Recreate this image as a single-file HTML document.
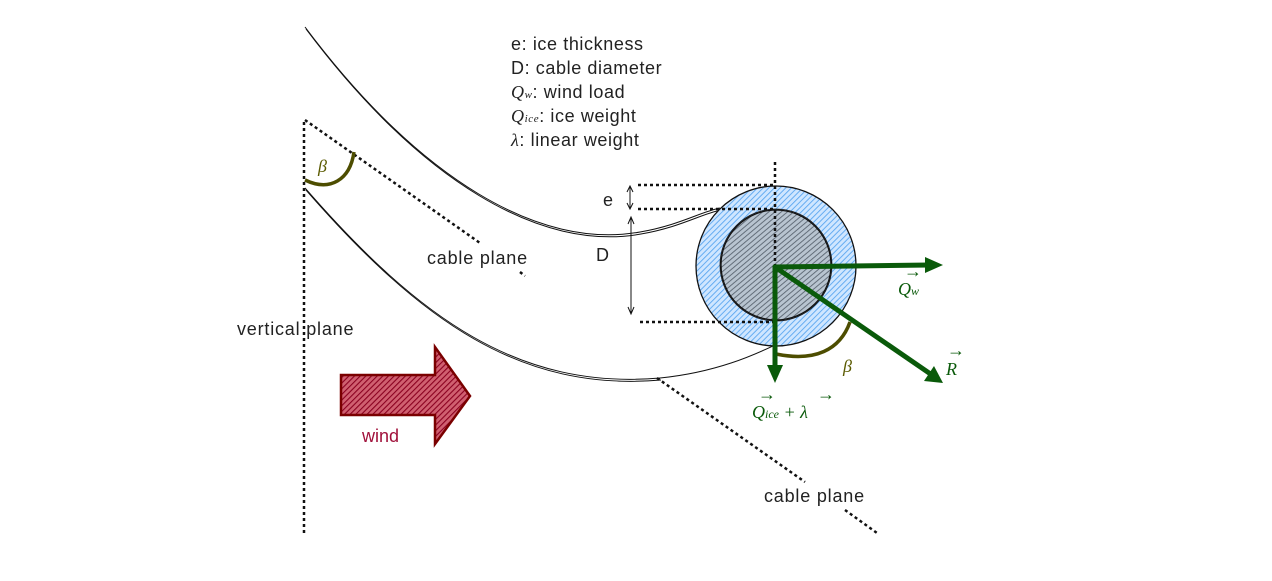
<!DOCTYPE html>
<html><head><meta charset="utf-8"><style>
body{margin:0;background:#fff}
svg{display:block}
text{font-family:"Liberation Sans",sans-serif;font-size:18px;fill:#222}
.m{font-family:"Liberation Serif",serif;font-style:italic}
</style></head><body>
<svg width="1272" height="581" viewBox="0 0 1272 581" xmlns="http://www.w3.org/2000/svg">
<defs>
<pattern id="hb" width="4" height="4" patternUnits="userSpaceOnUse" patternTransform="rotate(45)"><rect width="4" height="4" fill="#cfe6ff"/><line x1="0" y1="0" x2="0" y2="4" stroke="#5aa6f0" stroke-width="1.8"/></pattern>
<pattern id="hg" width="4" height="4" patternUnits="userSpaceOnUse" patternTransform="rotate(50)"><rect width="4" height="4" fill="#b8c4d0"/><line x1="0" y1="0" x2="0" y2="4" stroke="#5a6470" stroke-width="1.8"/></pattern>
<pattern id="hr" width="4" height="4" patternUnits="userSpaceOnUse" patternTransform="rotate(45)"><rect width="4" height="4" fill="#d06070"/><line x1="0" y1="0" x2="0" y2="4" stroke="#8a0020" stroke-width="2.2"/></pattern>
</defs>
<!-- cable curves -->
<g fill="none" stroke="#111" stroke-width="1">
<path d="M305,27 C420,180 540,250 640,232 C680,225 700,212 720,208"/>
<path d="M306,29 C421,182 541,252 641,234 C681,227 701,214 721,210"/>
<path d="M305,188 C420,320 520,390 660,378 C720,372 760,352 775,345"/>
<path d="M306,190 C421,322 521,392 661,380"/>
</g>
<!-- circles -->
<circle cx="776" cy="266" r="80" fill="url(#hb)" stroke="#111" stroke-width="1.3"/>
<circle cx="776" cy="265" r="55" fill="url(#hg)" stroke="#111" stroke-width="1.3"/>
<circle cx="776" cy="265" r="56" fill="none" stroke="#111" stroke-width="0.8"/>
<!-- dotted lines -->
<g fill="none" stroke="#111" stroke-width="2.5" stroke-dasharray="3,3">
<path d="M304,122 V535"/>
<path d="M305,120 L480,243"/>
<path d="M657,378 L805,482"/>
<path d="M845,510 L877,533"/>
<path d="M520,272 L525,276"/>
<path d="M775,162 V380"/>
<path d="M638,185 H775"/>
<path d="M638,209 H775"/>
<path d="M640,322 H775"/>
</g>
<!-- dim arrows -->
<g stroke="#111" stroke-width="1" fill="none">
<path d="M630,187 V208 M627,192 L630,186 L633,192 M627,203 L630,209 L633,203"/>
<path d="M631,218 V313 M628,224 L631,217 L634,224 M628,307 L631,314 L634,307"/>
</g>
<!-- beta arcs -->
<path d="M305,180 C330,192 350,180 354,152" fill="none" stroke="#4d4d00" stroke-width="3.5"/>
<path d="M776,354 C815,362 840,350 850,322" fill="none" stroke="#4d4d00" stroke-width="3.5"/>
<!-- green forces -->
<g stroke="#0a5a0a" stroke-width="5" fill="none" stroke-linecap="round">
<path d="M775,267 L930,265"/>
<path d="M775,267 V370"/>
<path d="M775,267 L932,375"/>
</g>
<g fill="#0a5a0a">
<path d="M943,265 L925,257 L925,273z"/>
<path d="M775,383 L767,365 L783,365z"/>
<path d="M943,383 L934,366 L924,381z"/>
</g>
<!-- wind arrow -->
<path d="M341,375 H435 V347 L470,396 L435,444 V415 H341z" fill="url(#hr)" stroke="#7a0000" stroke-width="2.5"/>
<!-- labels -->
<g font-size="18">
<text x="511" y="50" style="font-size:18px;letter-spacing:0.6px">e: ice thickness</text>
<text x="511" y="74" style="font-size:18px;letter-spacing:0.6px">D: cable diameter</text>
<text x="511" y="98" style="font-size:18px;letter-spacing:0.6px"><tspan class="m">Q</tspan><tspan class="m" font-size="11">w</tspan>: wind load</text>
<text x="511" y="122" style="font-size:18px;letter-spacing:0.6px"><tspan class="m">Q</tspan><tspan class="m" font-size="11">ice</tspan>: ice weight</text>
<text x="511" y="146" style="font-size:18px;letter-spacing:0.6px"><tspan class="m">λ</tspan>: linear weight</text>
</g>
<text x="318" y="172" class="m" style="fill:#5a5a00">β</text>
<text x="843" y="372" class="m" style="fill:#5a5a00">β</text>
<text x="427" y="264" style="letter-spacing:0.8px">cable plane</text>
<text x="764" y="502" style="letter-spacing:0.8px">cable plane</text>
<text x="237" y="335" style="letter-spacing:0.8px">vertical plane</text>
<text x="362" y="442" style="fill:#a0103a">wind</text>
<text x="603" y="206">e</text>
<text x="596" y="261">D</text>
<text x="898" y="295" class="m" style="fill:#0a5a0a" font-size="19">Q<tspan font-size="12">w</tspan></text>
<text x="904" y="277" style="fill:#0a5a0a" font-size="12">→</text>
<text x="946" y="375" class="m" style="fill:#0a5a0a" font-size="19">R</text>
<text x="947" y="356" style="fill:#0a5a0a" font-size="12">→</text>
<text x="752" y="418" class="m" style="fill:#0a5a0a" font-size="19">Q<tspan font-size="12">ice</tspan> + λ</text>
<text x="758" y="400" style="fill:#0a5a0a" font-size="12">→</text>
<text x="817" y="400" style="fill:#0a5a0a" font-size="12">→</text>
</svg>
</body></html>
